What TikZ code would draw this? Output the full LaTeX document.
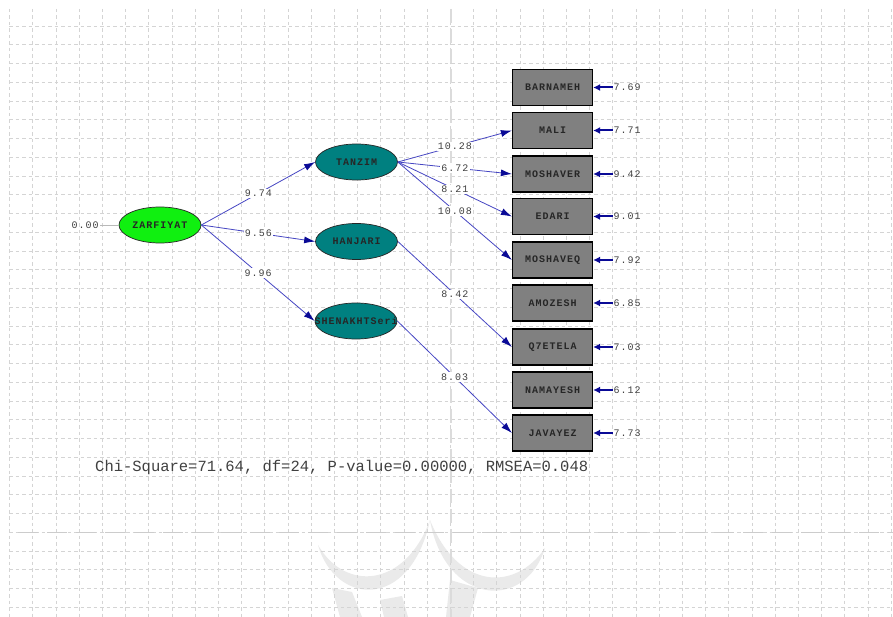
\documentclass[tikz,border=0pt]{standalone}
\usepackage{fontspec}
\usetikzlibrary{arrows.meta,shapes.geometric}
\newfontfamily\lis[LetterSpace=10]{Liberation Mono}
\newfontfamily\cour{Liberation Mono}
\definecolor{tealfill}{RGB}{0,128,128}
\definecolor{zgreen}{RGB}{16,240,16}
\definecolor{boxgray}{RGB}{128,128,128}
\definecolor{pathblue}{RGB}{70,70,195}
\definecolor{headblue}{RGB}{10,10,150}
\definecolor{gridgray}{RGB}{212,212,212}
\definecolor{wmgray}{RGB}{234,234,234}
\tikzset{
  gridline/.style={gridgray, line width=0.7pt, dash pattern=on 3.5pt off 3pt},
  latent/.style={ellipse, draw=black!85, line width=0.7pt, minimum width=82pt, minimum height=36pt, inner sep=0pt,
    font=\lis\bfseries\fontsize{10}{10}\selectfont, text=black!85},
  obs/.style={rectangle, draw=black, line width=1.2pt, fill=boxgray, minimum width=80pt, minimum height=36pt, inner sep=0pt,
    font=\lis\bfseries\fontsize{10}{10}\selectfont, text=black!85},
  lab/.style={fill=white, inner sep=1.2pt, font=\lis\fontsize{10}{10}\selectfont, text=black!75},
  errv/.style={inner sep=1pt, anchor=west, font=\lis\fontsize{10}{10}\selectfont, text=black!75},
  sem/.style={pathblue, line width=0.8pt, -{Latex[length=11pt,width=7pt,color=headblue]}},
  errarrow/.style={headblue, line width=2pt, -{Latex[length=7pt,width=7pt]}}
}
\begin{document}
\begin{tikzpicture}[x=1pt,y=-1pt]
\useasboundingbox (0,0) rectangle (893,617);
\fill[white] (0,0) rectangle (893,617);
% watermark
\fill[wmgray] (318,545) .. controls (335,605) and (410,612) .. (430,520) .. controls (405,588) and (345,592) .. (318,545);
\fill[wmgray] (430,520) .. controls (445,605) and (525,612) .. (545,548) .. controls (515,592) and (458,590) .. (430,520);
\fill[wmgray] (332,588) -- (352,592) -- (362,617) -- (340,617) -- cycle;
\fill[wmgray] (380,600) -- (402,596) -- (408,617) -- (384,617) -- cycle;
\fill[wmgray] (450,580) -- (478,588) -- (470,617) -- (446,617) -- cycle;
% grid
\foreach \k in {0,...,38} \draw[gridline] ({9.5+23.2*\k},9) -- ({9.5+23.2*\k},617);
\foreach \k in {0,...,31} \draw[gridline] (9,{26+18.75*\k}) -- (893,{26+18.75*\k});
\draw[gray!40, line width=1pt, dash pattern=on 20pt off 9pt] (18,532) -- (893,532);
\draw[gray!28, line width=1.2pt, dash pattern=on 14pt off 6pt] (451,9) -- (451,617);
% latent variables
\node[latent, fill=zgreen] (ZARFIYAT) at (160,225) {ZARFIYAT};
\node[latent, fill=tealfill] (TANZIM) at (356.5,162) {TANZIM};
\node[latent, fill=tealfill] (HANJARI) at (356.5,241.5) {HANJARI};
\node[latent, fill=tealfill] (SHENAKHT) at (356,321) {\makebox[0pt]{SHENAKHTSeri}};
% observed variables
\node[obs] (BARNAMEH) at (552.5,87.5) {BARNAMEH};
\node[obs] (MALI) at (552.5,130.5) {MALI};
\node[obs] (MOSHAVER) at (552.5,174) {MOSHAVER};
\node[obs] (EDARI) at (552.5,216.5) {EDARI};
\node[obs] (MOSHAVEQ) at (552.5,260) {MOSHAVEQ};
\node[obs] (AMOZESH) at (552.5,303) {AMOZESH};
\node[obs] (Q7ETELA) at (552.5,347) {Q7ETELA};
\node[obs] (NAMAYESH) at (552.5,390) {NAMAYESH};
\node[obs] (JAVAYEZ) at (552.5,433) {JAVAYEZ};
% error values
\foreach \n/\y/\v in {BARNAMEH/87.5/7.69, MALI/130.5/7.71, MOSHAVER/174/9.42, EDARI/216.5/9.01, MOSHAVEQ/260/7.92,
  AMOZESH/303/6.85, Q7ETELA/347/7.03, NAMAYESH/390/6.12, JAVAYEZ/433/7.73}{
  \node[errv] (e\n) at (612.5,\y) {\v};
  \draw[errarrow] (e\n.west) -- (\n.east);
}
% zero variance
\node[lab, fill=none, anchor=east] (zero) at (100,225) {0.00};
\draw[gray!55, line width=0.7pt] (zero.east) -- (ZARFIYAT.west);
% structural paths
\draw[sem] (ZARFIYAT.east) -- node[lab] {9.74} (TANZIM.west);
\draw[sem] (ZARFIYAT.east) -- node[lab] {9.56} (HANJARI.west);
\draw[sem] (ZARFIYAT.east) -- node[lab] {9.96} (SHENAKHT.west);
% loadings
\draw[sem] (TANZIM.east) -- node[lab] {10.28} (MALI.west);
\draw[sem] (TANZIM.east) -- node[lab] {6.72} (MOSHAVER.west);
\draw[sem] (TANZIM.east) -- node[lab] {8.21} (EDARI.west);
\draw[sem] (TANZIM.east) -- node[lab] {10.08} (MOSHAVEQ.west);
\draw[sem] (HANJARI.east) -- node[lab] {8.42} (Q7ETELA.west);
\draw[sem] (SHENAKHT.east) -- node[lab] {8.03} (JAVAYEZ.west);
% fit statistics
\node[anchor=west, inner sep=0pt, font=\cour\fontsize{15.5}{15.5}\selectfont, text=black!75] (fit) at (95,467)
  {Chi-Square=71.64, df=24, P-value=0.00000, RMSEA=0.048};
\end{tikzpicture}
\end{document}
